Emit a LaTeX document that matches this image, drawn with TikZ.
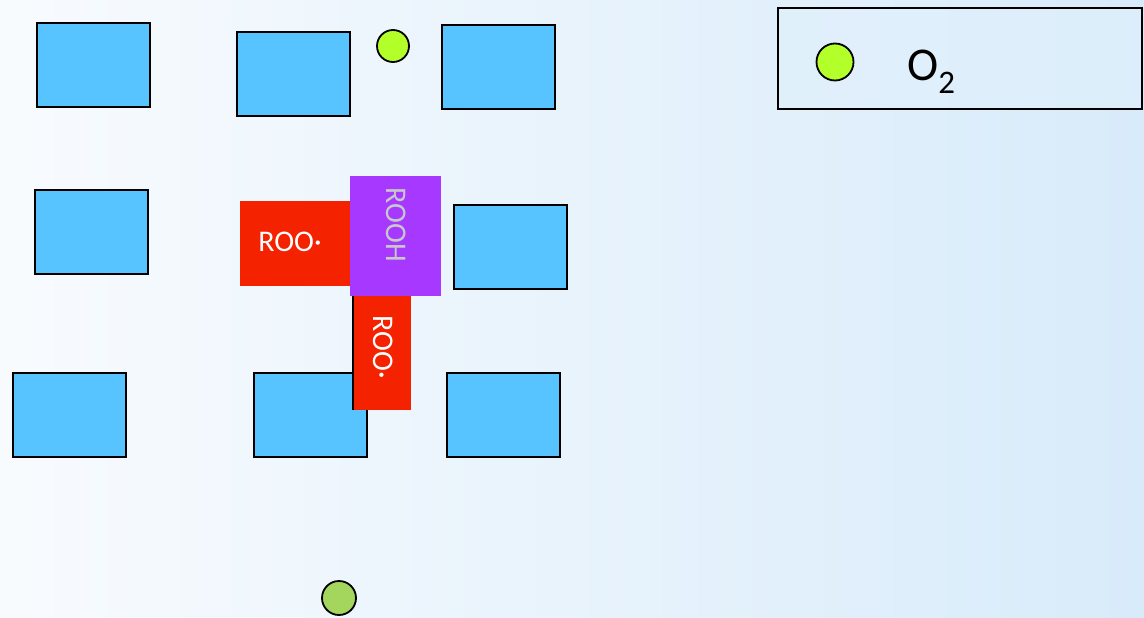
\documentclass[tikz,border=0pt]{standalone}
\usepackage{fontspec}
\setmainfont{Carlito}
\definecolor{boxblue}{RGB}{87,195,255}
\definecolor{roored}{RGB}{245,34,0}
\definecolor{roohpurple}{RGB}{166,56,255}
\definecolor{oxgreen}{RGB}{178,255,42}
\definecolor{oxgreen2}{RGB}{164,214,94}
\definecolor{bgleft}{RGB}{248,251,254}
\definecolor{bgright}{RGB}{216,235,250}
\definecolor{legendfill}{RGB}{224,240,252}
\definecolor{textgray}{RGB}{200,200,200}
\tikzset{
  bluebox/.style={draw=black, line width=1.8pt, fill=boxblue, minimum width=113pt, minimum height=84pt, inner sep=0pt, anchor=north west},
  redbox/.style={fill=roored, inner sep=0pt, anchor=north west},
  radlabel/.style={font=\fontsize{30}{30}\selectfont},
  molecule/.style={circle, draw=black, line width=1.8pt, inner sep=0pt},
}
\begin{document}
\begin{tikzpicture}[x=1pt,y=-1pt]
\useasboundingbox (0,0) rectangle (1144,618);
\shade[left color=bgleft, middle color=bgleft!70!white, right color=bgright] (0,0) rectangle (1144,618);
% blue boxes
\node[bluebox] (b1) at (36,22) {};
\node[bluebox] (b2) at (236,31) {};
\node[bluebox] (b3) at (441,24) {};
\node[bluebox] (b4) at (34,189) {};
\node[bluebox] (b5) at (453,204) {};
\node[bluebox] (b6) at (12,372) {};
\node[bluebox] (b7) at (253,372) {};
\node[bluebox] (b8) at (446,372) {};
% radicals
\node[redbox, minimum width=112pt, minimum height=85pt] (r1) at (240,201) {};
\node[text=white, radlabel] (r1t) at (290,242) {ROO·};
\node[redbox, minimum width=58pt, minimum height=114pt] (r2) at (353,296) {};
\draw[black, line width=1.2pt] (r2.north west) -- (r2.south west);
\node[text=white, radlabel, rotate=-90] (r2t) at (383,347) {ROO·};
\node[fill=roohpurple, inner sep=0pt, anchor=north west, minimum width=91pt, minimum height=120pt] (p1) at (350,176) {};
\node[text=textgray, radlabel, rotate=-90] (p1t) at (396,225) {ROOH};
% oxygen molecules
\node[molecule, fill=oxgreen, minimum size=32pt] (o1) at (393,46) {};
\node[molecule, fill=oxgreen2, minimum size=34pt] (o2) at (339,598) {};
% legend
\node[draw=black, line width=1.8pt, fill=legendfill, fill opacity=0.6, draw opacity=1, anchor=north west, minimum width=364pt, minimum height=101pt, inner sep=0pt] (leg) at (777,7) {};
\node[molecule, fill=oxgreen, minimum size=37pt] (lo) at (835,62) {};
\node[font=\fontsize{47}{47}\selectfont, anchor=west, inner sep=0pt] (lt) at (907,72) {O\textsubscript{2}};
\end{tikzpicture}
\end{document}
